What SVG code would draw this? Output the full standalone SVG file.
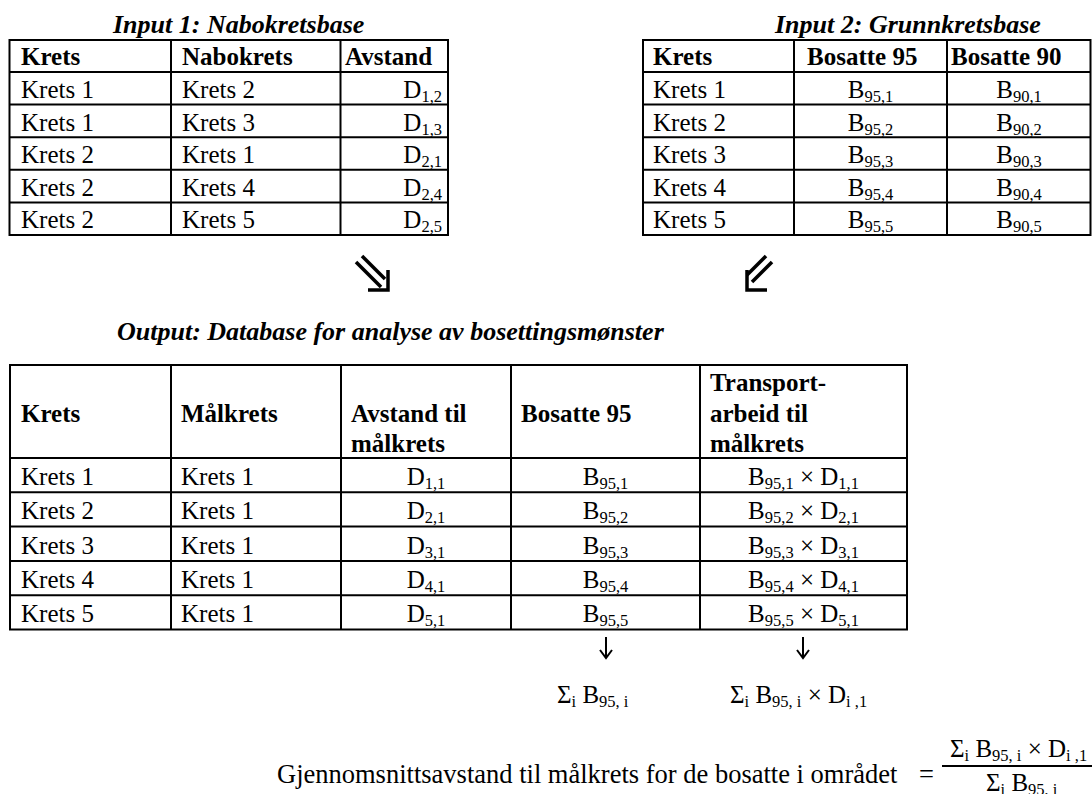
<svg xmlns="http://www.w3.org/2000/svg" width="1092" height="794" viewBox="0 0 1092 794" font-family="'Liberation Serif', 'Times New Roman', Tinos, 'DejaVu Serif', serif">
<style>
text { font-size: 25px; fill: #000; }
.b { font-weight: bold; }
.ttl { font-weight: bold; font-style: italic; font-size: 26px; }
.s { font-size: 16.5px; }
.f { font-size: 26.5px; }
.m { text-anchor: middle; }
.e { text-anchor: end; }
.grid line, .grid rect { stroke: #000; stroke-width: 2; fill: none; }
.arr { stroke: #000; fill: none; stroke-linecap: butt; }
</style>
<rect width="1092" height="794" fill="#fff"/>

<g id="input1">
  <text class="ttl" x="113" y="33">Input 1: Nabokretsbase</text>
  <g class="grid">
    <rect x="9.5" y="40" width="438.5" height="195"/>
    <line x1="171" y1="40" x2="171" y2="235"/>
    <line x1="340.5" y1="40" x2="340.5" y2="235"/>
    <line x1="9.5" y1="72" x2="448" y2="72"/>
    <line x1="9.5" y1="104.6" x2="448" y2="104.6"/>
    <line x1="9.5" y1="137.2" x2="448" y2="137.2"/>
    <line x1="9.5" y1="169.8" x2="448" y2="169.8"/>
    <line x1="9.5" y1="202.4" x2="448" y2="202.4"/>
  </g>
  <text class="b" x="21" y="65">Krets</text>
  <text class="b" x="182" y="65">Nabokrets</text>
  <text class="b" x="345" y="65">Avstand</text>
  <text x="21" y="98">Krets 1</text><text x="182" y="98">Krets 2</text><text class="e" x="442" y="98">D<tspan class="s" dy="4">1,2</tspan></text>
  <text x="21" y="130.6">Krets 1</text><text x="182" y="130.6">Krets 3</text><text class="e" x="442" y="130.6">D<tspan class="s" dy="4">1,3</tspan></text>
  <text x="21" y="163.2">Krets 2</text><text x="182" y="163.2">Krets 1</text><text class="e" x="442" y="163.2">D<tspan class="s" dy="4">2,1</tspan></text>
  <text x="21" y="195.8">Krets 2</text><text x="182" y="195.8">Krets 4</text><text class="e" x="442" y="195.8">D<tspan class="s" dy="4">2,4</tspan></text>
  <text x="21" y="228.4">Krets 2</text><text x="182" y="228.4">Krets 5</text><text class="e" x="442" y="228.4">D<tspan class="s" dy="4">2,5</tspan></text>
</g>

<g id="input2">
  <text class="ttl" x="775" y="33">Input 2: Grunnkretsbase</text>
  <g class="grid">
    <rect x="643" y="40" width="447.5" height="195"/>
    <line x1="794" y1="40" x2="794" y2="235"/>
    <line x1="947" y1="40" x2="947" y2="235"/>
    <line x1="643" y1="72" x2="1091" y2="72"/>
    <line x1="643" y1="104.6" x2="1091" y2="104.6"/>
    <line x1="643" y1="137.2" x2="1091" y2="137.2"/>
    <line x1="643" y1="169.8" x2="1091" y2="169.8"/>
    <line x1="643" y1="202.4" x2="1091" y2="202.4"/>
  </g>
  <text class="b" x="653" y="65">Krets</text>
  <text class="b" x="807" y="65">Bosatte 95</text>
  <text class="b" x="951" y="65">Bosatte 90</text>
  <text x="653" y="98">Krets 1</text><text class="m" x="870.5" y="98">B<tspan class="s" dy="4">95,1</tspan></text><text class="m" x="1019" y="98">B<tspan class="s" dy="4">90,1</tspan></text>
  <text x="653" y="130.6">Krets 2</text><text class="m" x="870.5" y="130.6">B<tspan class="s" dy="4">95,2</tspan></text><text class="m" x="1019" y="130.6">B<tspan class="s" dy="4">90,2</tspan></text>
  <text x="653" y="163.2">Krets 3</text><text class="m" x="870.5" y="163.2">B<tspan class="s" dy="4">95,3</tspan></text><text class="m" x="1019" y="163.2">B<tspan class="s" dy="4">90,3</tspan></text>
  <text x="653" y="195.8">Krets 4</text><text class="m" x="870.5" y="195.8">B<tspan class="s" dy="4">95,4</tspan></text><text class="m" x="1019" y="195.8">B<tspan class="s" dy="4">90,4</tspan></text>
  <text x="653" y="228.4">Krets 5</text><text class="m" x="870.5" y="228.4">B<tspan class="s" dy="4">95,5</tspan></text><text class="m" x="1019" y="228.4">B<tspan class="s" dy="4">90,5</tspan></text>
</g>

<g id="connectors">
  <g class="arr" stroke-width="3.5">
    <line x1="356" y1="262" x2="381" y2="287"/>
    <line x1="362" y1="256" x2="385" y2="279"/>
    <polyline points="368,290 388,290 388,270"/>
    <line x1="772" y1="262" x2="752" y2="282"/>
    <line x1="766" y1="256" x2="747" y2="275"/>
    <polyline points="767,290 747,290 747,270"/>
  </g>
  <g class="arr" stroke-width="2">
    <line x1="606" y1="637" x2="606" y2="657"/>
    <polyline points="600,650 606,658 612,650"/>
    <line x1="803" y1="637" x2="803" y2="657"/>
    <polyline points="797,650 803,658 809,650"/>
  </g>
</g>

<g id="output">
  <text class="ttl" x="117" y="340">Output: Database for analyse av bosettingsmønster</text>
  <g class="grid">
    <rect x="10" y="365" width="897" height="264.5"/>
    <line x1="171" y1="365" x2="171" y2="629.5"/>
    <line x1="341" y1="365" x2="341" y2="629.5"/>
    <line x1="511" y1="365" x2="511" y2="629.5"/>
    <line x1="700" y1="365" x2="700" y2="629.5"/>
    <line x1="10" y1="458" x2="907" y2="458"/>
    <line x1="10" y1="492.3" x2="907" y2="492.3"/>
    <line x1="10" y1="526.6" x2="907" y2="526.6"/>
    <line x1="10" y1="560.9" x2="907" y2="560.9"/>
    <line x1="10" y1="595.2" x2="907" y2="595.2"/>
  </g>
  <text class="b" x="21" y="422">Krets</text>
  <text class="b" x="181" y="422">Målkrets</text>
  <text class="b" x="351" y="422">Avstand til</text>
  <text class="b" x="351" y="452">målkrets</text>
  <text class="b" x="521" y="422">Bosatte 95</text>
  <text class="b" x="710" y="391">Transport-</text>
  <text class="b" x="710" y="422">arbeid til</text>
  <text class="b" x="710" y="452">målkrets</text>

  <text x="21" y="485">Krets 1</text><text x="181" y="485">Krets 1</text>
  <text class="m" x="426" y="485">D<tspan class="s" dy="4">1,1</tspan></text>
  <text class="m" x="605.5" y="485">B<tspan class="s" dy="4">95,1</tspan></text>
  <text class="m" x="803.5" y="485">B<tspan class="s" dy="4">95,1</tspan><tspan dy="-4"> × D</tspan><tspan class="s" dy="4">1,1</tspan></text>

  <text x="21" y="519.3">Krets 2</text><text x="181" y="519.3">Krets 1</text>
  <text class="m" x="426" y="519.3">D<tspan class="s" dy="4">2,1</tspan></text>
  <text class="m" x="605.5" y="519.3">B<tspan class="s" dy="4">95,2</tspan></text>
  <text class="m" x="803.5" y="519.3">B<tspan class="s" dy="4">95,2</tspan><tspan dy="-4"> × D</tspan><tspan class="s" dy="4">2,1</tspan></text>

  <text x="21" y="553.6">Krets 3</text><text x="181" y="553.6">Krets 1</text>
  <text class="m" x="426" y="553.6">D<tspan class="s" dy="4">3,1</tspan></text>
  <text class="m" x="605.5" y="553.6">B<tspan class="s" dy="4">95,3</tspan></text>
  <text class="m" x="803.5" y="553.6">B<tspan class="s" dy="4">95,3</tspan><tspan dy="-4"> × D</tspan><tspan class="s" dy="4">3,1</tspan></text>

  <text x="21" y="587.9">Krets 4</text><text x="181" y="587.9">Krets 1</text>
  <text class="m" x="426" y="587.9">D<tspan class="s" dy="4">4,1</tspan></text>
  <text class="m" x="605.5" y="587.9">B<tspan class="s" dy="4">95,4</tspan></text>
  <text class="m" x="803.5" y="587.9">B<tspan class="s" dy="4">95,4</tspan><tspan dy="-4"> × D</tspan><tspan class="s" dy="4">4,1</tspan></text>

  <text x="21" y="622.2">Krets 5</text><text x="181" y="622.2">Krets 1</text>
  <text class="m" x="426" y="622.2">D<tspan class="s" dy="4">5,1</tspan></text>
  <text class="m" x="605.5" y="622.2">B<tspan class="s" dy="4">95,5</tspan></text>
  <text class="m" x="803.5" y="622.2">B<tspan class="s" dy="4">95,5</tspan><tspan dy="-4"> × D</tspan><tspan class="s" dy="4">5,1</tspan></text>
</g>

<g id="sums">
  <text x="557" y="703">Σ<tspan class="s" dy="4">i</tspan><tspan dy="-4"> B</tspan><tspan class="s" dy="4">95, i</tspan></text>
  <text x="730" y="703">Σ<tspan class="s" dy="4">i</tspan><tspan dy="-4"> B</tspan><tspan class="s" dy="4">95, i</tspan><tspan dy="-4"> × D</tspan><tspan class="s" dy="4">i ,1</tspan></text>
</g>

<g id="formula">
  <text class="f" x="277" y="783">Gjennomsnittsavstand til målkrets for de bosatte i området</text>
  <text class="f" x="919" y="783">=</text>
  <line x1="942" y1="766" x2="1092" y2="766" stroke="#000" stroke-width="2"/>
  <text x="950" y="757">Σ<tspan class="s" dy="4">i</tspan><tspan dy="-4"> B</tspan><tspan class="s" dy="4">95, i</tspan><tspan dy="-4"> × D</tspan><tspan class="s" dy="4">i ,1</tspan></text>
  <text x="986" y="791">Σ<tspan class="s" dy="4">i</tspan><tspan dy="-4"> B</tspan><tspan class="s" dy="4">95, i</tspan></text>
</g>
</svg>
